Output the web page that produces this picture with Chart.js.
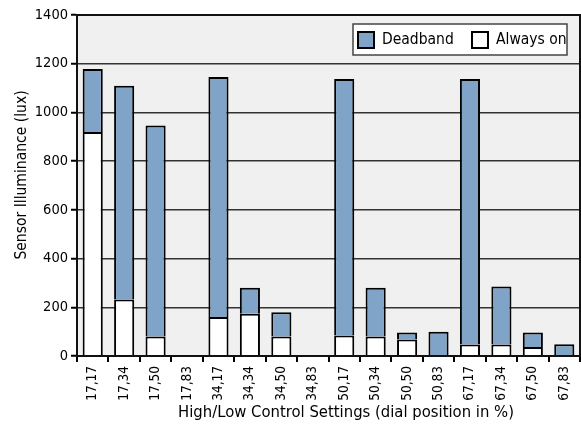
<!DOCTYPE html>
<html>
<head>
<meta charset="utf-8">
<script src="https://cdn.jsdelivr.net/npm/chart.js@4/dist/chart.umd.min.js"></script>
<style>
html,body{margin:0;padding:0;background:#fff;}
</style>
</head>
<body>
<canvas id="c" width="581" height="433"></canvas>
<script>
const categories = ["17,17","17,34","17,50","17,83","34,17","34,34","34,50","34,83","50,17","50,34","50,50","50,83","67,17","67,34","67,50","67,83"];
const alwaysOn = [920, 232, 80, 0, 160, 173, 80, 0, 84, 80, 68, 0, 47, 47, 37, 0];
const deadband = [258, 878, 866, 0, 985, 107, 100, 0, 1053, 200, 28, 100, 1090, 238, 59, 48];
const yTicks = [0, 200, 400, 600, 800, 1000, 1200, 1400];
const legendLabels = ["Deadband", "Always on"];
const xTitle = "High/Low Control Settings (dial position in %)";
const yTitle = "Sensor Illuminance (lux)";

const FONT = "'DejaVu Sans Condensed', 'Liberation Sans Narrow', sans-serif";
const BLUE = '#7fa4c8';

const frame = {
  id: 'frame',
  beforeDraw(chart) {
    const {ctx, chartArea: a} = chart;
    ctx.save();
    ctx.fillStyle = '#f0f0f0';
    ctx.fillRect(a.left, a.top, a.right - a.left, a.bottom - a.top);
    ctx.restore();
  },
  afterDraw(chart) {
    const {ctx, chartArea: a} = chart;
    ctx.save();
    ctx.strokeStyle = '#111';
    ctx.lineWidth = 2;
    ctx.strokeRect(a.left, a.top, a.right - a.left, a.bottom - a.top);
    // axis titles
    ctx.fillStyle = '#000';
    ctx.textAlign = 'center';
    ctx.textBaseline = 'middle';
    ctx.font = '16.5px ' + FONT;
    ctx.fillText(xTitle, 346, 413);
    ctx.save();
    ctx.translate(22, 175);
    ctx.rotate(-Math.PI / 2);
    ctx.font = '15.5px ' + FONT;
    ctx.fillText(yTitle, 0, 0);
    ctx.restore();
    // legend
    const x0 = 353, y0 = 24, w = 214, h = 31;
    ctx.fillStyle = '#fff';
    ctx.fillRect(x0, y0, w, h);
    ctx.strokeStyle = '#444';
    ctx.lineWidth = 1.5;
    ctx.strokeRect(x0, y0, w, h);
    const items = [
      {label: legendLabels[0], color: BLUE, bx: 358, tx: 382},
      {label: legendLabels[1], color: '#fff', bx: 472, tx: 496}
    ];
    ctx.font = '15.5px ' + FONT;
    ctx.textBaseline = 'middle';
    ctx.textAlign = 'left';
    items.forEach(it => {
      ctx.fillStyle = it.color;
      ctx.fillRect(it.bx, 32, 16, 16);
      ctx.strokeStyle = '#000';
      ctx.lineWidth = 2;
      ctx.strokeRect(it.bx, 32, 16, 16);
      ctx.fillStyle = '#000';
      ctx.fillText(it.label, it.tx, 40);
    });
    ctx.restore();
  }
};

new Chart(document.getElementById('c'), {
  type: 'bar',
  data: {
    labels: categories,
    datasets: [
      {label: 'Always on', data: alwaysOn, backgroundColor: '#ffffff', borderColor: '#000', borderWidth: 2},
      {label: 'Deadband', data: deadband, backgroundColor: BLUE, borderColor: '#000', borderWidth: 2}
    ]
  },
  options: {
    responsive: false,
    animation: false,
    layout: {padding: {top: 15, right: 1, left: 0, bottom: 0}},
    plugins: {legend: {display: false}, tooltip: {enabled: false}},
    datasets: {bar: {categoryPercentage: 1, barPercentage: 0.64}},
    scales: {
      x: {
        stacked: true,
        offset: true,
        grid: {offset: true, drawOnChartArea: false, drawTicks: true, tickLength: 6, color: '#000', lineWidth: 2},
        border: {display: true, color: '#111', width: 2},
        ticks: {color: '#000', font: {family: FONT, size: 13.5}, maxRotation: 90, minRotation: 90, padding: 4, autoSkip: false},
        title: {display: false},
        afterFit(s) { s.height = 77; s.paddingLeft = 0; s.paddingRight = 0; }
      },
      y: {
        stacked: true,
        min: 0, max: 1400,
        afterBuildTicks(s) { s.ticks = yTicks.map(v => ({value: v})); },
        grid: {color: '#333', lineWidth: 1.5, tickLength: 6, tickColor: '#000', tickWidth: 2},
        border: {display: true, color: '#111', width: 2},
        ticks: {color: '#000', font: {family: FONT, size: 14.5}, padding: 3, callback: v => String(v)},
        title: {display: false},
        afterFit(s) { s.width = 77; s.paddingTop = 0; s.paddingBottom = 0; }
      }
    }
  },
  plugins: [frame]
});
</script>
</body>
</html>
